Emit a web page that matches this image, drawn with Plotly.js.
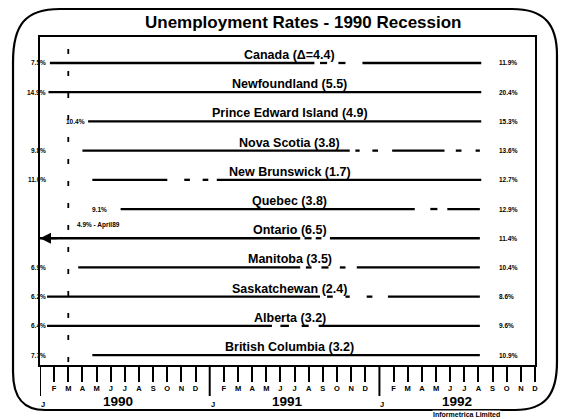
<!DOCTYPE html>
<html><head><meta charset="utf-8">
<script src="https://cdn.plot.ly/plotly-3.0.1.min.js"></script>
<style>html,body{margin:0;padding:0;background:#fff}#chart{width:561px;height:419px}</style>
</head><body><div id="chart"></div>
<script>
// ---- data ----
const provinces = ["Canada","Newfoundland","Prince Edward Island","Nova Scotia","New Brunswick","Quebec","Ontario","Manitoba","Saskatchewan","Alberta","British Columbia"];
const changes = [4.4,5.5,4.9,3.8,1.7,3.8,6.5,3.5,2.4,3.2,3.2];
const startRates = [7.5,14.9,10.4,9.8,11.0,9.1,4.9,6.9,6.2,6.4,7.7];
const endRates = [11.9,20.4,15.3,13.6,12.7,12.9,11.4,10.4,8.6,9.6,10.9];
// drawn segments per row, in months from Jan 1990 (0) to Dec 1992 (35)
const segments = [
  [[0.7,19.4],[19.8,20.3],[21.1,21.6],[22.8,31.2]],
  [[0.6,31.2]],
  [[3.4,31.2]],
  [[3.0,21.9],[22.3,22.6],[23.5,23.9],[24.9,28.6],[29.4,29.8],[30.8,31.1]],
  [[3.7,9.0],[10.2,10.6],[11.5,11.9],[12.5,31.2]],
  [[5.7,26.5],[27.6,28.1],[28.8,31.1]],
  [[0.0,18.4],[18.7,19.2],[19.5,19.9],[20.5,31.1]],
  [[2.7,18.4],[18.8,19.2],[19.9,20.4],[21.2,21.6],[22.4,31.1]],
  [[0.5,19.8],[20.3,20.7],[21.6,21.9],[23.1,23.5],[24.6,31.1]],
  [[0.5,16.4],[17.0,17.6],[18.5,19.0],[19.7,31.1]],
  [[3.7,31.1]]
];
const monthLetters = ["J","F","M","A","M","J","J","A","S","O","N","D"];
const years = [1990,1991,1992];
const recessionMarker = 2.0;          // month index of dashed vertical marker
const ontarioNote = "4.9% - April89";
const titleText = "Unemployment Rates - 1990 Recession";
const sourceText = "Informetrica Limited";

// ---- layout geometry (pixels) ----
const W=561,H=419,L=40,T=37,PW=495,PH=328;
const px=(x)=>(x-L)/PW, py=(y)=>1-(y-T)/PH;
const FONT="Liberation Sans, Arial, sans-serif";

const traces = provinces.map((p,i)=>{
  const xs=[],ys=[];
  segments[i].forEach(s=>{xs.push(s[0],s[1],null);ys.push(i,i,null);});
  return {x:xs,y:ys,type:'scatter',mode:'lines',line:{color:'#000',width:2.3},
          hoverinfo:'skip',showlegend:false,connectgaps:false};
});

const nMonths = years.length*12;
const tickvals=[],ticktext=[];
for(let m=0;m<nMonths;m++){ if(m%12!==0){tickvals.push(m);ticktext.push('<b>'+monthLetters[m%12]+'</b>');} }

const annotations=[];
annotations.push({xref:'paper',yref:'paper',x:px(303),y:py(22),text:'<b>'+titleText+'</b>',showarrow:false,
  font:{family:FONT,size:17,color:'#000'},xanchor:'center',yanchor:'middle'});
// source credit (drawn first so year labels sit on top)
annotations.push({xref:'paper',yref:'paper',x:px(466),y:py(414),text:'<b>'+sourceText+'</b>',showarrow:false,
  font:{family:FONT,size:7,color:'#000'},xanchor:'center',yanchor:'middle',bgcolor:'#fff',borderpad:0});
const labelAtStart = [2,5];
provinces.forEach((p,i)=>{
  const ch = (i===0? 'Δ=':'') + changes[i].toFixed(1);
  annotations.push({xref:'paper',yref:'y',x:0.505,y:i,text:'<b>'+p+' ('+ch+')</b>',showarrow:false,
    font:{family:FONT,size:12.5,color:'#000'},xanchor:'center',yanchor:'bottom',yshift:-1});
  annotations.push({xref:'paper',yref:'y',x:px(497),y:i,text:'<b>'+endRates[i].toFixed(1)+'%</b>',showarrow:false,
    font:{family:FONT,size:6.5,color:'#000'},xanchor:'left',yanchor:'middle'});
  if(i===6) return;
  if(labelAtStart.includes(i)){
    annotations.push({xref:'x',yref:'y',x:segments[i][0][0],y:i,text:'<b>'+startRates[i].toFixed(1)+'%</b>',showarrow:false,
      font:{family:FONT,size:6.5,color:'#000'},xanchor:'right',yanchor:'middle',xshift:i===5?-12:-1});
  } else {
    annotations.push({xref:'paper',yref:'y',x:px(48),y:i,text:'<b>'+startRates[i].toFixed(1)+'%</b>',showarrow:false,
      font:{family:FONT,size:6.5,color:'#000'},xanchor:'right',yanchor:'middle'});
  }
});
// Ontario note and arrow
annotations.push({xref:'x',yref:'y',x:2.5,y:6,text:'<b>'+ontarioNote+'</b>',showarrow:false,
  font:{family:FONT,size:6.5,color:'#000'},xanchor:'left',yanchor:'middle',yshift:13});
annotations.push({xref:'x',yref:'y',x:0,y:6,axref:'x',ayref:'y',ax:1.3,ay:6,text:'',showarrow:true,
  arrowhead:2,arrowsize:1.1,arrowwidth:2,arrowcolor:'#000'});
// years and J labels
years.forEach((yr,k)=>{
  annotations.push({xref:'x',yref:'paper',x:k*12+5.5,y:py(401.5),text:'<b>'+yr+'</b>',showarrow:false,
    font:{family:FONT,size:13.5,color:'#000'},xanchor:'center',yanchor:'middle'});
  annotations.push({xref:'x',yref:'paper',x:k*12,y:py(404),text:'<b>'+monthLetters[0]+'</b>',showarrow:false,
    font:{family:FONT,size:7.5,color:'#000'},xanchor:'center',yanchor:'middle',xshift:3});
});

// frame path in pixel coords -> paper
function P(x,y){return px(x).toFixed(4)+','+py(y).toFixed(4);}
const framePath='M '+P(13,62)+' C '+P(13,25)+' '+P(25,9)+' '+P(60,9)+
  ' L '+P(512,9)+' C '+P(545,9)+' '+P(557,25)+' '+P(557,55)+
  ' L '+P(557,362)+' C '+P(557,395)+' '+P(545,410)+' '+P(515,410)+
  ' L '+P(45,410)+' C '+P(25,410)+' '+P(13,400)+' '+P(13,372)+' Z';

const shapes=[
  {type:'path',xref:'paper',yref:'paper',path:framePath,line:{color:'#000',width:2.2}},
  {type:'line',xref:'x',yref:'paper',x0:recessionMarker,x1:recessionMarker,y0:py(362),y1:py(41),
   line:{color:'#000',width:1.8,dash:'5px,17px'}}
];
years.forEach((yr,k)=>{
  shapes.push({type:'line',xref:'x',yref:'paper',x0:k*12,x1:k*12,y0:0,y1:py(396),line:{color:'#000',width:2}});
});

const layout={
  width:W,height:H,margin:{l:L,r:W-L-PW,t:T,b:H-T-PH,pad:0},
  paper_bgcolor:'#fff',plot_bgcolor:'#fff',showlegend:false,
  xaxis:{range:[0,nMonths-1],tickmode:'array',tickvals:tickvals,ticktext:ticktext,ticks:'outside',ticklen:15,
    tickwidth:2,tickcolor:'#000',showline:true,linewidth:2,linecolor:'#000',mirror:true,showgrid:false,zeroline:false,
    tickfont:{family:FONT,size:7.5,color:'#000'},tickangle:0,fixedrange:true},
  yaxis:{range:[10.34,-0.89],showticklabels:false,ticks:'',showline:true,linewidth:2,linecolor:'#000',mirror:true,
    showgrid:false,zeroline:false,fixedrange:true},
  annotations:annotations,shapes:shapes
};
Plotly.newPlot('chart',traces,layout,{staticPlot:true,displayModeBar:false});
</script></body></html>
